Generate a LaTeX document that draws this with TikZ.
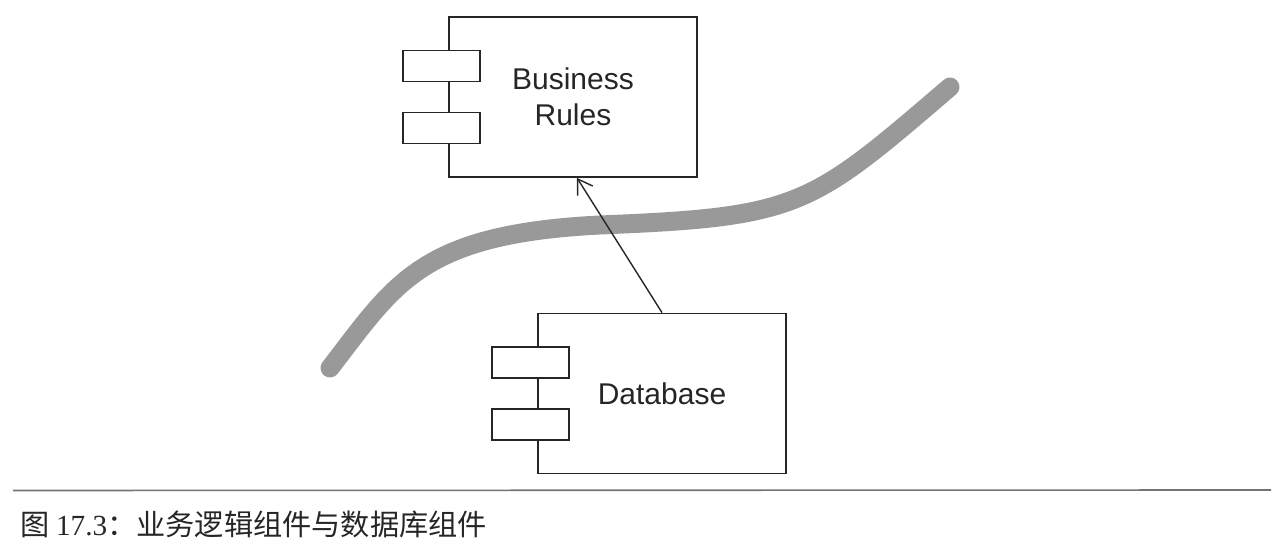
\documentclass[tikz,border=0pt]{standalone}
\usepackage{fontspec}
\setmainfont{Liberation Serif}
\newfontfamily\labelfont{Liberation Sans}
\newfontfamily\cjk{Noto Sans CJK SC}
\usetikzlibrary{arrows.meta,positioning}
\begin{document}
\begin{tikzpicture}[x=0.5pt,y=0.5pt,
	comp/.style={draw=black!85,line width=0.9pt,minimum width=124pt,minimum height=80pt,align=center,text=black!85,font=\labelfont\fontsize{15}{18}\selectfont},
	tab/.style={draw=black!85,fill=white,line width=0.9pt,minimum width=38.5pt,minimum height=15.5pt,inner sep=0pt}]
	\useasboundingbox (0,0) rectangle (1282,552);
	% Grenze
	\draw[line width=9.5pt,line cap=round,black!40] (330,184) .. controls (395,268) and (420,318) .. (600,327) .. controls (800,335) and (810,345) .. (950,465);
	\node[comp] (rules) at (573,455) {Business\\Rules};
	\node[comp] (db) at (662,158.5) {Database};
	\foreach \c in {rules,db}{
		\node[tab] (\c-tabA) at ([xshift=-3.5pt,yshift=15.5pt]\c.west) {};
		\node[tab] (\c-tabB) at ([xshift=-3.5pt,yshift=-15.5pt]\c.west) {};
	}
	\draw[-{Straight Barb[length=7pt,width=9pt]},line width=0.7pt,black!85] (db.north) to ([xshift=2pt]rules.south);
	% Bildunterschrift
	\draw[black!55,line width=0.8pt] (13,61.5) to (1271,62);
	\node[anchor=west,inner sep=0pt,text=black!85,font=\cjk\fontsize{14.6}{16}\selectfont] (caption) at (20,28) {图 {\rmfamily 17.3}：业务逻辑组件与数据库组件};
\end{tikzpicture}
\end{document}
